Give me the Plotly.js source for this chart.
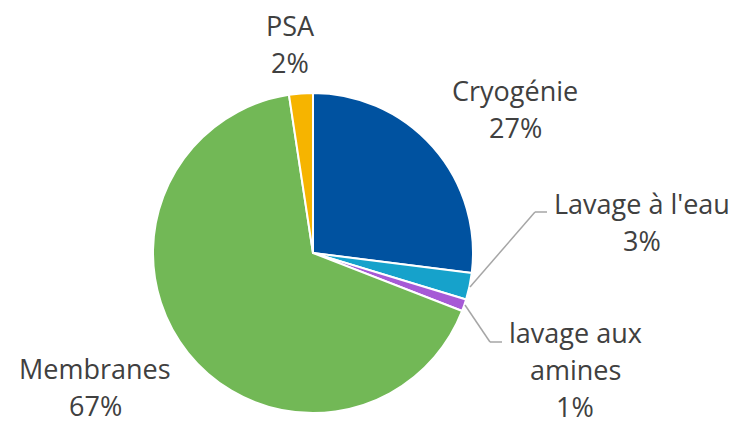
<!DOCTYPE html>
<html>
<head>
<meta charset="utf-8">
<script src="https://cdn.plot.ly/plotly-3.0.1.min.js"></script>
<style>html,body{margin:0;padding:0;background:#fff;}#chart{width:736px;height:425px;}</style>
</head>
<body>
<div id="chart"></div>
<script>
// Data
const categories = ["Cryogénie", "Lavage à l'eau", "lavage aux amines", "Membranes", "PSA"];
const values = [27.0, 2.7, 1.2, 66.7, 2.4];
const colors = ["#0052A0", "#16A2CB", "#A65AD6", "#72B856", "#F6B400"];
// label line breaks as displayed
const labelLines = [["Cryogénie"], ["Lavage à l'eau"], ["lavage aux", "amines"], ["Membranes"], ["PSA"]];

// Layout helpers (pixel positions of label blocks)
const W = 736, H = 425;
const labelPos = [
  {x: 515, y: 90},
  {x: 642, y: 203},
  {x: 575, y: 332},
  {x: 95, y: 368},
  {x: 290, y: 25}
];
const lineStep = 37;
const leaders = [
  null,
  [[470, 287], [535, 212], [547, 212]],
  [[465, 305], [490, 342], [502, 342]],
  null,
  null
];

const total = values.reduce((a, b) => a + b, 0);
const px = x => x / W, py = y => 1 - y / H;

const annotations = [];
categories.forEach((c, i) => {
  const lines = labelLines[i].concat([Math.round(values[i] / total * 100) + "%"]);
  lines.forEach((t, k) => {
    annotations.push({
      text: t, xref: "paper", yref: "paper",
      x: px(labelPos[i].x), y: py(labelPos[i].y + k * lineStep),
      xanchor: "center", yanchor: "middle", showarrow: false,
      font: {family: "Open Sans, sans-serif", size: 27, color: "#404040"}
    });
  });
});

const shapes = [];
leaders.forEach(l => {
  if (!l) return;
  for (let j = 0; j < l.length - 1; j++) {
    shapes.push({type: "line", xref: "paper", yref: "paper",
      x0: px(l[j][0]), y0: py(l[j][1]), x1: px(l[j + 1][0]), y1: py(l[j + 1][1]),
      line: {color: "#A6A6A6", width: 1.5}});
  }
});

const trace = {
  type: "pie",
  labels: categories,
  values: values,
  sort: false,
  direction: "clockwise",
  rotation: 0,
  textinfo: "none",
  hoverinfo: "label+percent",
  marker: {colors: colors, line: {color: "#ffffff", width: 2}},
  domain: {x: [153 / W, 473 / W], y: [1 - 413 / H, 1 - 93 / H]},
  showlegend: false
};

Plotly.newPlot("chart", [trace], {
  width: W, height: H,
  margin: {l: 0, r: 0, t: 0, b: 0},
  paper_bgcolor: "#ffffff",
  annotations: annotations,
  shapes: shapes,
  showlegend: false
}, {displayModeBar: false, staticPlot: true});
</script>
</body>
</html>
